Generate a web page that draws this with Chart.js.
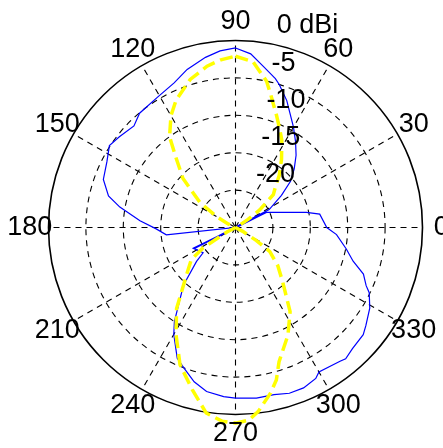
<!DOCTYPE html>
<html><head><meta charset="utf-8">
<script src="https://cdn.jsdelivr.net/npm/chart.js@4/dist/chart.umd.min.js"></script>
<style>html,body{margin:0;padding:0;background:#fff;overflow:hidden}</style>
</head><body>
<canvas id="c" width="443" height="448"></canvas>
<script>
// Angular ticks (degrees, counter-clockwise from east) and their labels
const angleTickValues = [0, 30, 60, 90, 120, 150, 180, 210, 240, 270, 300, 330];
const angleTickLabels = ['0', '30', '60', '90', '120', '150', '180', '210', '240', '270', '300', '330'];
// Radial rings (dBi) and their labels
const ringValues = [-20, -15, -10, -5, 0];
const ringLabels = ['-20', '-15', '-10', '-5', '0 dBi'];
const radialMin = -25;
const radialMax = 0;

// Series 1 (blue, solid): angle in degrees, gain in dBi
const blueAngles = [0, 9, 12, 26, 27, 28, 35, 40, 45, 50, 55, 60, 65, 68, 73, 75, 80, 85, 90,
  95, 100, 107, 113, 121, 130, 135, 142, 147, 153, 160, 166, 170, 176, 181, 186, 187,
  206, 218, 221, 228, 237, 240, 246, 250, 255, 260, 266, 270, 277, 283, 288, 293, 298,
  300, 308, 310, 314, 320, 323, 329, 334, 336, 340, 344, 349, 356];
const blueDb = [-12.8, -13.6, -15.3, -20.4, -31.3, -19.9, -17.5, -15.4, -13.9, -12.4, -11.0, -9.5, -7.9, -6.7, -5.0, -4.4, -3.2, -1.7, -1.0,
  -1.3, -1.9, -2.9, -4.0, -4.7, -5.05, -5.8, -5.3, -4.9, -5.7, -6.2, -7.5, -9.3, -12.2, -14.4, -15.7, -25,
  -18.7, -19.5, -18.1, -14.6, -10.0, -8.5, -5.85, -4.95, -3.65, -2.74, -2.34, -2.19, -2.02, -2.07, -1.70, -1.71, -2.14,
  -2.69, -2.30, -2.09, -2.49, -2.71, -3.18, -4.06, -5.11, -5.88, -6.80, -8.64, -9.91, -11.46];

// Series 2 (yellow, dashed): angle in degrees, gain in dBi
const yellowAngles = [0, 30, 33, 36, 41, 45, 50, 56, 62, 66, 70, 75, 78, 84, 90, 95, 100, 107, 115, 120,
  126, 130, 137, 145, 150, 154, 180, 208, 212, 216, 224, 234, 241, 248, 255, 261, 266, 270,
  274, 277, 282, 285, 288, 296, 303, 311, 318, 325, 328, 332];
const yellowDb = [-25, -24.3, -23.0, -21.0, -18.3, -17.5, -15.9, -14.0, -11.8, -10.5, -9.0, -6.7, -5.0, -2.7, -2.1, -2.5, -3.1, -4.3, -6.2, -7.75,
  -10.0, -12.5, -15.4, -19.25, -22.1, -23.9, -25, -23.7, -19.9, -17.7, -15.9, -11.6, -8.6, -5.2, -2.6, 0.1, 0.95, 1.15,
  0.8, -0.2, -2.4, -3.9, -6.15, -9.0, -11.6, -15.4, -17.4, -19.4, -21.7, -23.9];

// Radar scale: one category per degree, index 0 at top, going clockwise
const N = 360;
function indexOfAngle(a) { return (((90 - a) % 360) + 360) % 360; }
function angleOfIndex(i) { return (((90 - i) % 360) + 360) % 360; }
const categories = Array.from({length: N}, (_, i) => String(angleOfIndex(i)));
function toRadar(angles, vals) {
  const arr = new Array(N).fill(null);
  angles.forEach((a, k) => { arr[indexOfAngle(a)] = vals[k]; });
  return arr;
}

const FONT = '27px "Liberation Sans", Arial, Helvetica, sans-serif';

const polarLabels = {
  id: 'polarLabels',
  beforeDraw(chart) {
    chart.ctx.save();
    chart.ctx.translate(-0.5, -0.5);
  },
  afterDraw(chart) {
    const s = chart.scales.r;
    const ctx = chart.ctx;
    ctx.save();
    ctx.fillStyle = '#000';
    ctx.font = FONT;
    // angle labels at 1.1 x outer radius
    ctx.textAlign = 'center';
    ctx.textBaseline = 'middle';
    angleTickValues.forEach((a, k) => {
      const p = s.getPointPosition(indexOfAngle(a), s.drawingArea * 1.1);
      ctx.fillText(angleTickLabels[k], p.x, p.y);
    });
    // ring labels along the 82 degree direction
    ctx.textAlign = 'left';
    ctx.textBaseline = 'alphabetic';
    ringValues.forEach((v, k) => {
      const d = s.getDistanceFromCenterForValue(v) + s.drawingArea * 0.01;
      const p = s.getPointPosition(indexOfAngle(82), d);
      ctx.fillText('  ' + ringLabels[k], p.x, p.y - 7);
    });
    ctx.restore();
    ctx.restore();
  }
};

new Chart(document.getElementById('c'), {
  type: 'radar',
  data: {
    labels: categories,
    datasets: [
      {
        label: 'Series 1',
        data: toRadar(blueAngles, blueDb),
        borderColor: '#0000ff',
        borderWidth: 1.2,
        fill: false,
        pointRadius: 0,
        pointHoverRadius: 0,
        spanGaps: true,
        tension: 0,
        clip: false,
        order: 1
      },
      {
        label: 'Series 2',
        data: toRadar(yellowAngles, yellowDb),
        borderColor: '#ffff00',
        borderWidth: 3.5,
        borderDash: [13, 6],
        fill: false,
        pointRadius: 0,
        pointHoverRadius: 0,
        spanGaps: true,
        tension: 0,
        clip: false,
        order: 0
      }
    ]
  },
  options: {
    responsive: false,
    devicePixelRatio: 1,
    animation: false,
    layout: { padding: { left: 49, right: 20, top: 41, bottom: 33 } },
    plugins: { legend: { display: false }, tooltip: { enabled: false }, title: { display: false } },
    scales: {
      r: {
        min: radialMin,
        max: radialMax,
        startAngle: 0,
        beginAtZero: false,
        ticks: { display: false, stepSize: 5 },
        pointLabels: { display: false },
        grid: {
          circular: true,
          color: '#000',
          lineWidth: (c) => (c.tick && c.tick.value === radialMax ? 1.6 : 1.1)
        },
        border: {
          dash: (c) => (c.tick && c.tick.value === radialMax ? [] : [6, 5]),
          dashOffset: 0
        },
        angleLines: {
          display: true,
          color: '#000',
          lineWidth: (c) => (angleOfIndex(c.index) % 30 === 0 ? 1.1 : 0),
          borderDash: [6, 5]
        }
      }
    }
  },
  plugins: [polarLabels]
});
</script>
</body></html>
